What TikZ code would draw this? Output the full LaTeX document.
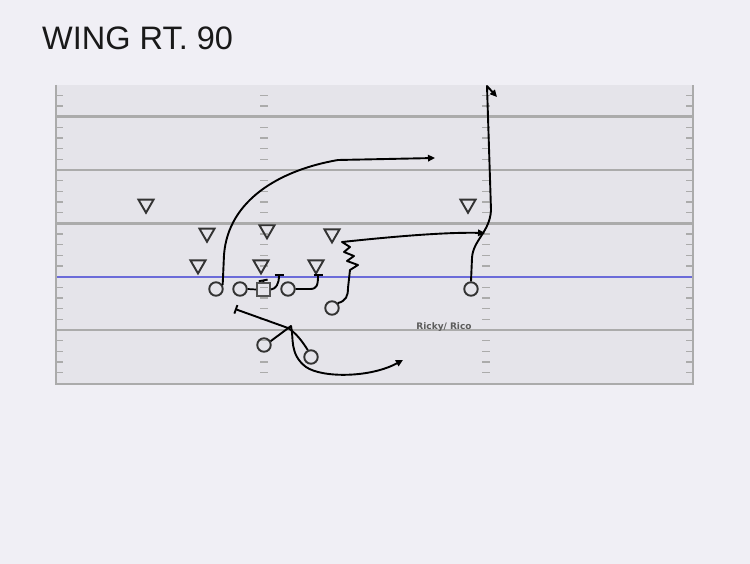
\documentclass[tikz,border=0pt]{standalone}
\usepackage{fontspec}
\setmainfont{Liberation Sans}
\newfontfamily\tagfont{DejaVu Sans}
\usetikzlibrary{shapes.geometric, arrows.meta}
\definecolor{page}{HTML}{F0EFF5}
\definecolor{turf}{HTML}{E5E4EA}
\definecolor{yard}{HTML}{ABABAB}
\definecolor{scrim}{HTML}{6B6BD9}
\definecolor{ink}{HTML}{333333}

\begin{document}
\begin{tikzpicture}[x=1pt, y=-1pt,
  off/.style={circle, draw=ink, line width=1.9pt, minimum size=13.5pt, inner sep=0pt},
  ctr/.style={rectangle, draw=ink!85, line width=1.7pt, minimum size=13pt, inner sep=0pt},
  def/.style={regular polygon, regular polygon sides=3, shape border rotate=180, draw=ink, line width=1.9pt, minimum size=17.5pt, inner sep=0pt},
  route/.style={line width=1.9pt, line join=round, -{Triangle[length=7pt,width=6.5pt]}},
  block/.style={line width=1.9pt, line join=round, -{Bar[width=9pt]}}]
\useasboundingbox (0,0) rectangle (750,564);
% field
\fill[page] (0,0) rectangle (750,564);
\fill[turf] (55,85) rectangle (694,384);
\foreach \j in {-2,-1,1,2,3,4,6,7,8,9,11,12,13,14,16,17,18,19,21,22,23,24}
  \foreach \x/\w in {56/7,686/7,260/8,482/8}
    \draw[yard, line width=1.2pt] (\x,{116.7+10.667*\j}) -- ++(\w,0);
\foreach \k in {0,1,2,4}
  \draw[yard, line width=2.4pt] (56,{116.7+53.33*\k}) -- (693,{116.7+53.33*\k});
\draw[scrim, line width=2pt] (55,277.3) -- (694,277.3);
\draw[yard, line width=2pt] (56,85) -- (56,383.5) -- (693,383.5) -- (693,85);
% texts
\node[anchor=base west, inner sep=0pt, font=\fontsize{32.5}{38}\selectfont, text=black!90] (title) at (42,50) {WING RT. 90};
\node[anchor=base, inner sep=0pt, font=\tagfont\bfseries\fontsize{9}{11}\selectfont, text=ink!80] (tag) at (444,329) {Ricky/ Rico};
% offense
\node[off] (O1) at (216,289) {};
\node[off] (O2) at (240,289) {};
\node[ctr] (C) at (263.5,289.5) {};
\node[off] (O3) at (288,289) {};
\node[off] (O4) at (332,308) {};
\node[off] (O5) at (471,289) {};
\node[off] (O6) at (264,345) {};
\node[off] (O7) at (311,357) {};
% defense
\node[def] (D1) at (146,204) {};
\node[def] (D2) at (207,233) {};
\node[def] (D3) at (267,229.6) {};
\node[def] (D4) at (332,233.7) {};
\node[def] (D5) at (198,264.7) {};
\node[def] (D6) at (261,264.7) {};
\node[def] (D7) at (316,264.7) {};
\node[def] (D8) at (468,204) {};
% routes
\coordinate (endA) at (435,158);
\coordinate (endB) at (497,97);
\coordinate (endC) at (485,233);
\coordinate (endS) at (403,360);
\draw[route] (O1.30) -- (224,255) .. controls (228,200) and (280,170) .. (338,160) -- (endA);
\draw[route] (O5.north) -- (472,258) .. controls (473,240) and (490,232) .. (491,210) -- (487,86) -- (endB);
\draw[route] (O4.40) .. controls (346,301) and (348,296) .. (348,288) -- (350,270) -- (358,265) -- (347,261) -- (354,256) -- (344,252) -- (350,247) -- (342,242) .. controls (380,238) and (440,232) .. (endC);
\draw[route] (O6.30) -- (291,326) .. controls (294,338) and (289,354) .. (306,367) .. controls (322,378) and (370,378) .. (endS);
% blocks
\coordinate (blkC) at (263,279.5);
\coordinate (blkR) at (279,274);
\coordinate (blkG) at (318,274);
\coordinate (blkB) at (235,309);
\draw[line width=1.7pt] (O2.east) -- (C.west);
\draw[block] (C.north) -- (blkC);
\draw[block] (C.east) .. controls (276,289) and (279,284) .. (blkR);
\draw[block] (O3.east) -- (310,289) .. controls (317,289) and (318,285) .. (blkG);
\draw[block] (O7.115) .. controls (302,341) and (296,333) .. (288,328) -- (blkB);
\end{tikzpicture}
\end{document}
